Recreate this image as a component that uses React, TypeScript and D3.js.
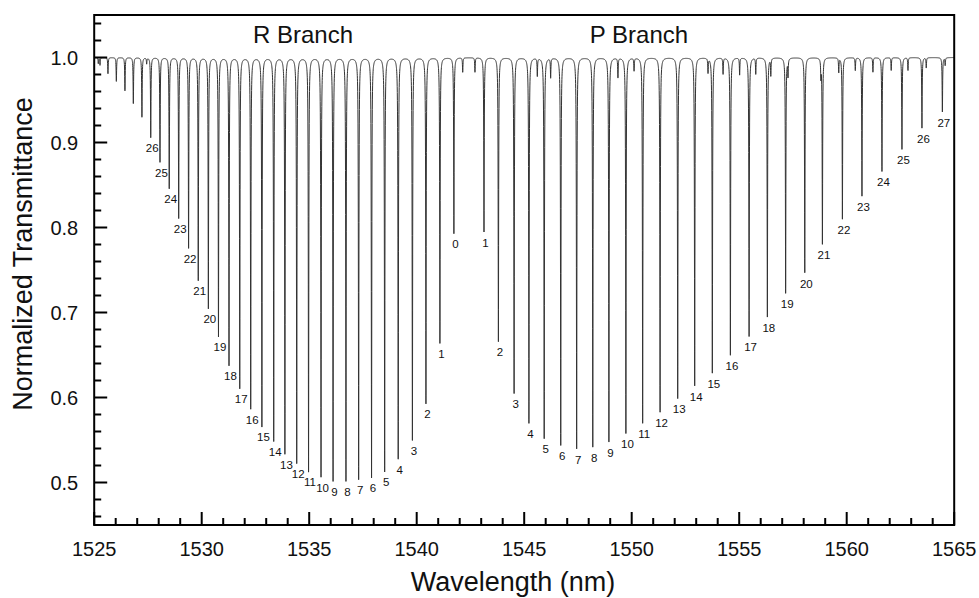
import React, { useMemo } from 'react';
import * as d3 from 'd3';

// R branch: rotational quantum number J, line centre (nm), transmittance at line centre
const rBranchJ = [0, 1, 2, 3, 4, 5, 6, 7, 8, 9, 10, 11, 12, 13, 14, 15, 16, 17, 18, 19, 20, 21, 22, 23, 24, 25, 26, 27, 28, 29, 30, 31, 32];
const rBranchNm = [1541.73, 1541.08, 1540.43, 1539.80, 1539.14, 1538.51, 1537.90, 1537.30, 1536.71, 1536.11, 1535.55, 1534.97, 1534.42, 1533.87, 1533.35, 1532.80, 1532.28, 1531.77, 1531.27, 1530.78, 1530.31, 1529.84, 1529.39, 1528.93, 1528.49, 1528.06, 1527.63, 1527.22, 1526.82, 1526.43, 1526.03, 1525.64, 1525.27];
const rBranchT = [0.793, 0.664, 0.593, 0.550, 0.528, 0.513, 0.506, 0.504, 0.502, 0.502, 0.507, 0.513, 0.523, 0.534, 0.549, 0.566, 0.587, 0.611, 0.638, 0.672, 0.705, 0.738, 0.776, 0.811, 0.846, 0.877, 0.906, 0.930, 0.946, 0.961, 0.972, 0.981, 0.991];
const rLabelMaxJ = 26;

// P branch
const pBranchJ = [1, 2, 3, 4, 5, 6, 7, 8, 9, 10, 11, 12, 13, 14, 15, 16, 17, 18, 19, 20, 21, 22, 23, 24, 25, 26, 27];
const pBranchNm = [1543.13, 1543.80, 1544.53, 1545.22, 1545.93, 1546.70, 1547.44, 1548.19, 1548.94, 1549.73, 1550.51, 1551.32, 1552.14, 1552.93, 1553.75, 1554.59, 1555.46, 1556.31, 1557.16, 1558.05, 1558.87, 1559.80, 1560.71, 1561.64, 1562.57, 1563.50, 1564.45];
const pBranchT = [0.795, 0.666, 0.605, 0.570, 0.552, 0.544, 0.540, 0.542, 0.548, 0.558, 0.570, 0.583, 0.599, 0.614, 0.629, 0.650, 0.672, 0.695, 0.723, 0.747, 0.781, 0.810, 0.837, 0.866, 0.892, 0.917, 0.936];

// weak (hot band) lines near the top
const weakNm = [1525.19, 1527.44, 1542.14, 1542.71, 1545.61, 1546.23, 1549.36, 1550.11, 1553.55, 1554.25, 1555.02, 1555.77, 1556.47, 1557.27, 1558.80, 1559.63, 1560.40, 1561.22, 1562.07, 1562.85, 1563.70, 1564.58];
const weakT = [0.993, 0.993, 0.983, 0.983, 0.979, 0.977, 0.977, 0.985, 0.983, 0.981, 0.980, 0.981, 0.980, 0.980, 0.980, 0.983, 0.985, 0.983, 0.985, 0.985, 0.988, 0.991];

const xTicks = [1525, 1530, 1535, 1540, 1545, 1550, 1555, 1560, 1565];
const yTicks = [0.5, 0.6, 0.7, 0.8, 0.9, 1.0];

const W = 979;
const H = 598;
const left = 94.2;
const right = 954.2;
const top = 15;
const bottom = 525;
const FONT = 'Liberation Sans, Arial, Helvetica, sans-serif';

const App = () => {
  const x = d3.scaleLinear().domain([1525, 1565]).range([left, right]);
  const y = d3.scaleLinear().domain([0.45, 1.05]).range([bottom, top]);

  const lines = useMemo(() => {
    const all: { c: number; d: number }[] = [];
    rBranchNm.forEach((c, i) => all.push({ c, d: 1 - rBranchT[i] }));
    pBranchNm.forEach((c, i) => all.push({ c, d: 1 - pBranchT[i] }));
    weakNm.forEach((c, i) => all.push({ c, d: 1 - weakT[i] }));
    return all;
  }, []);

  const pathD = useMemo(() => {
    const gamma = 0.013; // half width (nm)
    const g2 = gamma * gamma;
    const step = x.invert(left + 0.1) - 1525;
    const grid = d3.range(1525, 1565 + step / 2, step).concat(lines.map(l => l.c));
    grid.sort((a, b) => a - b);
    const pts: [number, number][] = grid.map(l => {
      let t = 1;
      for (const ln of lines) {
        const dx = l - ln.c;
        t -= ln.d * g2 / (g2 + dx * dx);
      }
      return [l, t];
    });
    return d3.line<[number, number]>().x(p => x(p[0])).y(p => y(p[1]))(pts) || '';
  }, [lines]);

  const xMinor = d3.range(1526, 1565, 1).filter(v => v % 5 !== 0);
  const yMinor = d3.range(46, 105, 2).map(v => v / 100).filter(v => Math.round(v * 100) % 10 !== 0);

  return (
    <svg width={W} height={H} style={{ position: 'absolute', left: 0, top: 0, background: '#fff' }}>
      <defs>
        <clipPath id="plot">
          <rect x={left} y={top} width={right - left} height={bottom - top} />
        </clipPath>
      </defs>
      <rect x={0} y={0} width={W} height={H} fill="#fff" />

      <path d={pathD} fill="none" stroke="#333" strokeWidth={1} clipPath="url(#plot)" />

      {/* line labels */}
      <g fontFamily={FONT} fontSize={11.5} fill="#111" textAnchor="middle">
        {rBranchJ.map((j, i) =>
          j <= rLabelMaxJ ? (
            <text key={'r' + j} x={x(rBranchNm[i]) + 1.5} y={y(rBranchT[i]) + 11} dominantBaseline="central">
              {j}
            </text>
          ) : null
        )}
        {pBranchJ.map((j, i) => (
          <text key={'p' + j} x={x(pBranchNm[i]) + 1.5} y={y(pBranchT[i]) + 11} dominantBaseline="central">
            {j}
          </text>
        ))}
      </g>

      {/* branch titles */}
      <g fontFamily={FONT} fontSize={24} fill="#111" textAnchor="middle">
        <text x={x(1534.71)} y={y(1.017)}>R Branch</text>
        <text x={x(1550.34)} y={y(1.017)}>P Branch</text>
      </g>

      {/* ticks, inward */}
      <g stroke="#000" strokeWidth={2}>
        {xTicks.map(t => (
          <line key={'xt' + t} x1={x(t)} x2={x(t)} y1={bottom} y2={bottom - 13} />
        ))}
        {xMinor.map(t => (
          <line key={'xm' + t} x1={x(t)} x2={x(t)} y1={bottom} y2={bottom - 7} />
        ))}
        {yTicks.map(t => (
          <line key={'yt' + t} x1={left} x2={left + 13} y1={y(t)} y2={y(t)} />
        ))}
        {yMinor.map(t => (
          <line key={'ym' + t} x1={left} x2={left + 7} y1={y(t)} y2={y(t)} />
        ))}
      </g>

      <rect x={left} y={top} width={right - left} height={bottom - top} fill="none" stroke="#000" strokeWidth={2} />

      {/* tick labels */}
      <g fontFamily={FONT} fontSize={20} fill="#111">
        {xTicks.map(t => (
          <text key={'xl' + t} x={x(t)} y={bottom + 31} textAnchor="middle">
            {t}
          </text>
        ))}
        {yTicks.map(t => (
          <text key={'yl' + t} x={left - 16} y={y(t) + 7} textAnchor="end">
            {t.toFixed(1)}
          </text>
        ))}
      </g>

      {/* axis titles */}
      <g fontFamily={FONT} fontSize={27} fill="#111" textAnchor="middle">
        <text x={513} y={591}>Wavelength (nm)</text>
        <text transform="translate(32, 254) rotate(-90)">Normalized Transmittance</text>
      </g>
    </svg>
  );
};

export default App;
